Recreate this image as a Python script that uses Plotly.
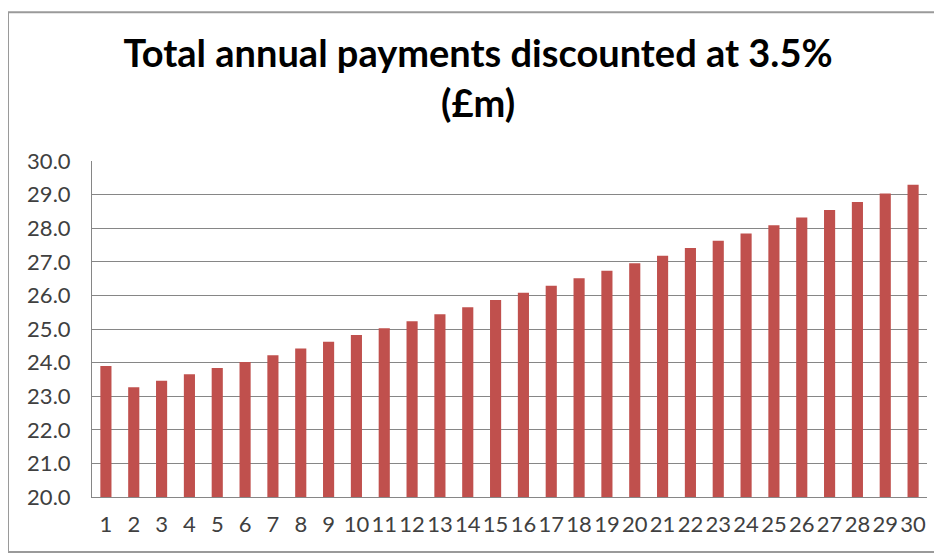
import plotly.graph_objects as go

years = [str(i) for i in range(1, 31)]
payments = [23.90, 23.27, 23.46, 23.65, 23.84, 24.02, 24.22, 24.42, 24.62, 24.82,
            25.02, 25.23, 25.44, 25.65, 25.86, 26.08, 26.29, 26.51, 26.73, 26.96,
            27.18, 27.41, 27.63, 27.84, 28.09, 28.32, 28.54, 28.78, 29.03, 29.29]
y_ticks = [20, 21, 22, 23, 24, 25, 26, 27, 28, 29, 30]
title_text = "<b>Total annual payments discounted at 3.5%<br>(£m)</b>"

fig = go.Figure(go.Bar(x=years, y=payments, marker_color="#C0504D",
                       marker_line_width=0, width=0.4))

fig.update_layout(
    width=942, height=556,
    margin=dict(l=84, r=23, t=153, b=67),
    paper_bgcolor="white", plot_bgcolor="white",
    font=dict(family="Lato", color="#404040"),
    title=dict(text=title_text, x=0.499, xanchor="center", y=0.893, yanchor="middle",
               yref="container", font=dict(family="Lato", size=38, color="#000000")),
    bargap=0.6,
    showlegend=False,
    shapes=[dict(type="rect", xref="paper", yref="paper",
                 x0=-0.1006, x1=1.0168, y0=-0.164, y1=1.443,
                 line=dict(color="#9a9a9a", width=2), fillcolor="rgba(0,0,0,0)", layer="below")],
)
fig.update_yaxes(range=[20, 30], tickvals=y_ticks, tickformat=".1f",
                 showgrid=True, gridcolor="#868686", gridwidth=1,
                 showline=True, linecolor="#868686", linewidth=1,
                 ticks="", ticklabelstandoff=16, tickfont=dict(size=22), zeroline=False)
fig.update_xaxes(showline=True, linecolor="#868686", linewidth=1, ticks="",
                 tickfont=dict(size=22), ticklabelstandoff=8, tickangle=0, showgrid=False)

fig.write_html("out.html")
